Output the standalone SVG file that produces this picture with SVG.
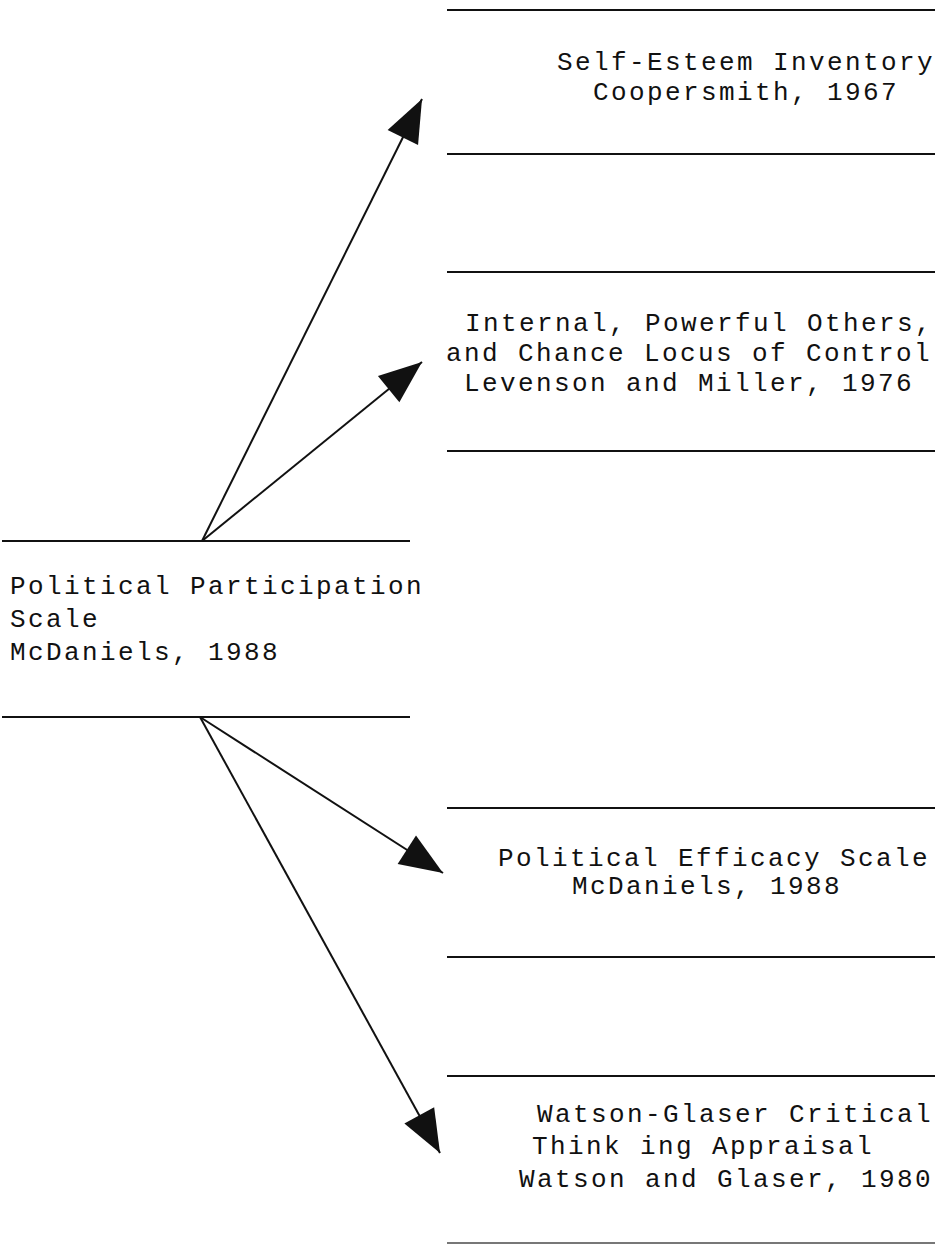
<svg xmlns="http://www.w3.org/2000/svg" width="938" height="1253" viewBox="0 0 938 1253">
<style>
.rule{stroke:#111;stroke-width:2;fill:none}
.conn{stroke:#111;stroke-width:2;fill:none;marker-end:url(#ah)}
text{font-family:"Liberation Mono","Courier New",monospace;font-size:26px;letter-spacing:2.4px;fill:#111}
</style>
<defs>
<marker id="ah" markerUnits="userSpaceOnUse" markerWidth="46" markerHeight="36" refX="43" refY="17" orient="auto" overflow="visible">
<path d="M0,0 L43,17 L0,34 Z" fill="#111"/>
</marker>
</defs>
<rect width="938" height="1253" fill="#fff"/>
<g id="node-self-esteem">
<line class="rule" x1="447" y1="10" x2="935" y2="10"/>
<text x="557" y="70">Self-Esteem Inventory</text>
<text x="593" y="100">Coopersmith, 1967</text>
<line class="rule" x1="447" y1="154" x2="935" y2="154"/>
</g>
<g id="node-locus">
<line class="rule" x1="447" y1="272" x2="935" y2="272"/>
<text x="465" y="331">Internal, Powerful Others,</text>
<text x="446" y="361">and Chance Locus of Control</text>
<text x="464" y="391">Levenson and Miller, 1976</text>
<line class="rule" x1="447" y1="451" x2="935" y2="451"/>
</g>
<g id="node-participation">
<line class="rule" x1="2" y1="541" x2="410" y2="541"/>
<text x="10" y="594">Political Participation</text>
<text x="10" y="627">Scale</text>
<text x="10" y="660">McDaniels, 1988</text>
<line class="rule" x1="2" y1="717" x2="410" y2="717"/>
</g>
<g id="node-efficacy">
<line class="rule" x1="447" y1="808" x2="935" y2="808"/>
<text x="498" y="866">Political Efficacy Scale</text>
<text x="572" y="894">McDaniels, 1988</text>
<line class="rule" x1="447" y1="957" x2="935" y2="957"/>
</g>
<g id="node-watson">
<line class="rule" x1="447" y1="1076" x2="935" y2="1076"/>
<text x="537" y="1122">Watson-Glaser Critical</text>
<text x="532" y="1154"><tspan>Think</tspan><tspan dx="18">ing Appraisal</tspan></text>
<text x="519" y="1187">Watson and Glaser, 1980</text>
<line x1="447" y1="1243" x2="935" y2="1243" stroke="#777" stroke-width="2"/>
</g>
<g id="connectors">
<line class="conn" x1="202" y1="541" x2="422" y2="99"/>
<line class="conn" x1="202" y1="541" x2="422" y2="362"/>
<line class="conn" x1="200" y1="717" x2="443" y2="873"/>
<line class="conn" x1="200" y1="717" x2="440" y2="1153"/>
</g>
</svg>
